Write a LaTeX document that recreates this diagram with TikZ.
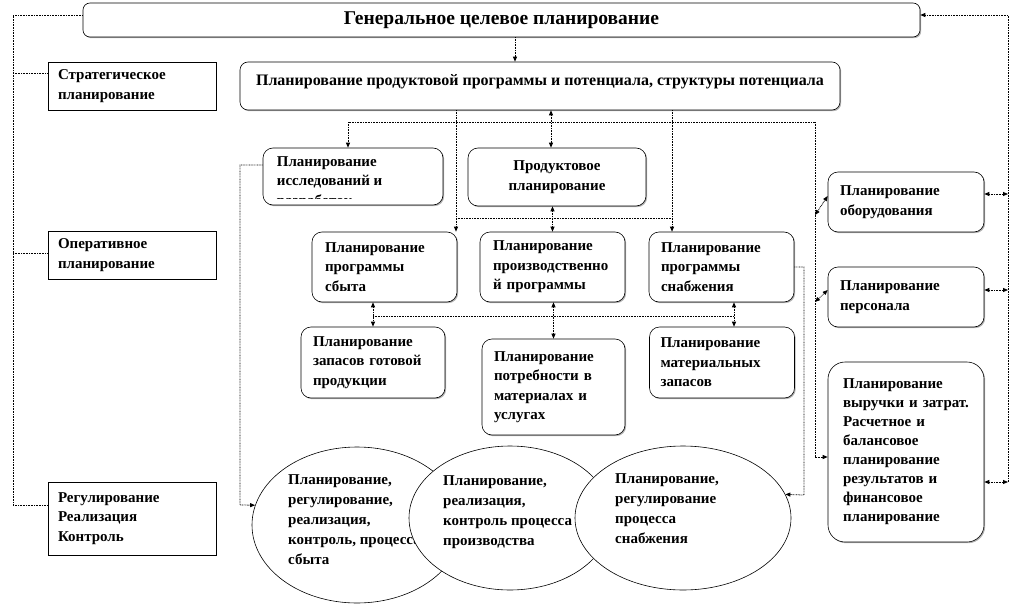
\documentclass[tikz,border=0pt]{standalone}
\usepackage{fontspec}
\setmainfont{Liberation Serif}
\usepackage{tikz}
\usetikzlibrary{positioning}
\usetikzlibrary{shapes.geometric}
\usetikzlibrary{shadows}
\usetikzlibrary{arrows.meta}

\begin{document}
\begin{tikzpicture}[x=1pt,y=-1pt,
  >={Triangle[length=5pt,width=4pt]},
  box/.style={draw,fill=white,line width=0.6pt,inner sep=0pt,
    drop shadow={shadow xshift=1.2pt,shadow yshift=-1.2pt,opacity=0.6},
    font=\fontsize{15}{19.5}\selectfont\bfseries},
  rbox/.style={box,rounded corners=10pt},
  oval/.style={ellipse,draw,fill=white,line width=0.6pt,inner sep=0pt},
  words/.style={inner sep=0pt,align=left,anchor=north west,
    font=\fontsize{15}{20}\selectfont\bfseries},
  link/.style={dash pattern=on 0.8pt off 0.8pt,line width=0.8pt}]
  \useasboundingbox (0,0) rectangle (1032,615);

  \node at (501.5,20) [rbox,rounded corners=7pt,minimum width=837pt,minimum height=34pt,font=\fontsize{19.5}{22}\selectfont\bfseries] (gen) {
    Генеральное целевое планирование
  };

  \node at (540,86) [rbox,rounded corners=8pt,minimum width=600pt,minimum height=48pt,text depth=12pt,font=\fontsize{16}{19}\selectfont\bfseries] (prog) {
    Планирование продуктовой программы и потенциала, структуры потенциала
  };

  \node at (132,86) [box,minimum width=168pt,minimum height=48pt,text width=148pt,align=left] (strat) {
    Стратегическое\\планирование
  };

  \node at (132,255) [box,minimum width=168pt,minimum height=48pt,text width=148pt,align=left] (oper) {
    Оперативное\\планирование
  };

  \node at (132,518.5) [box,minimum width=168pt,minimum height=73pt,text width=148pt,align=left] (reg) {
    Регулирование\\Реализация\\Контроль
  };

  \node at (353,176.5) [rbox,minimum width=180pt,minimum height=57pt] (research) {};
  \begin{scope}
    \clip (research.north west) rectangle ([yshift=7pt]research.south east);
    \node at ([xshift=14pt,yshift=-8.5pt]research.north west) [words,font=\fontsize{15}{19.5}\selectfont\bfseries] (research text) {
      Планирование\\исследований и\\разработок
    };
  \end{scope}

  \node at (557,177) [rbox,minimum width=178pt,minimum height=58pt,align=center] (product) {
    Продуктовое\\планирование
  };

  \node at (384.5,267) [rbox,minimum width=145pt,minimum height=70pt,text width=119pt,align=left] (sales) {
    Планирование\\программы\\сбыта
  };

  \node at (552.5,267) [rbox,minimum width=145pt,minimum height=70pt,text width=119pt,align=left] (output) {
    Планирование\\производственно\\й программы
  };

  \node at (721.5,267) [rbox,minimum width=145pt,minimum height=70pt,text width=121pt,align=left] (supply) {
    Планирование\\программы\\снабжения
  };

  \node at (373,362.5) [rbox,minimum width=144pt,minimum height=71pt,text width=120pt,align=left] (stock) {
    Планирование\\запасов готовой\\продукции
  };

  \node at (553.5,387) [rbox,minimum width=143pt,minimum height=96pt,text width=119pt,align=left] (needs) {
    Планирование\\потребности в\\материалах и\\услугах
  };

  \node at (722,362.5) [rbox,minimum width=145pt,minimum height=71pt,text width=123pt,align=left] (material) {
    Планирование\\материальных\\запасов
  };

  \node at (906,202) [rbox,minimum width=156pt,minimum height=60pt,text width=132pt,align=left] (equip) {
    Планирование\\оборудования
  };

  \node at (906,297) [rbox,minimum width=156pt,minimum height=60pt,text width=132pt,align=left] (staff) {
    Планирование\\персонала
  };

  \node at (906,452) [rbox,rounded corners=17pt,minimum width=156pt,minimum height=180pt,text width=126pt,align=left,font=\fontsize{15}{19}\selectfont\bfseries] (finance) {
    Планирование\\выручки и затрат.\\Расчетное и\\балансовое\\планирование\\результатов и\\финансовое\\планирование
  };

  % control loops
  \node at (357,525) [oval,minimum width=210pt,minimum height=156pt] (sales loop) {};
  \node at (288,474.5) [words] (sales loop text) {
    Планирование,\\регулирование,\\реализация,\\контроль, процесса\\сбыта
  };

  \node at (510,518) [oval,minimum width=202pt,minimum height=144pt] (output loop) {};
  \node at (443,475) [words] (output loop text) {
    Планирование,\\реализация,\\контроль процесса\\производства
  };

  \node at (683,518) [oval,minimum width=216pt,minimum height=144pt] (supply loop) {};
  \node at (615,473) [words] (supply loop text) {
    Планирование,\\регулирование\\процесса\\снабжения
  };

  % left rail
  \coordinate (rail top) at (13,15);
  \coordinate (rail end) at (13,505);
  \draw[link] (gen.west |- rail top) -- (rail top) -- (rail end) -- (reg.west |- rail end);
  \draw[link] (rail top |- 0,73) -- (strat.west |- 0,73);
  \draw[link] (rail top |- 0,253) -- (oper.west |- 0,253);

  % right rail
  \coordinate (back top) at (1008,15);
  \coordinate (back end) at (1008,482);
  \draw[link,->] (back end) -- (back top) -- (gen.east |- back top);
  \draw[link,<->] (equip.east |- 0,194) -- (back top |- 0,194);
  \draw[link,<->] (staff.east |- 0,290) -- (back top |- 0,290);
  \draw[link,<->] (finance.east |- back end) -- (back end);

  \draw[link,->] (gen.south -| 515,0) -- (prog.north -| 515,0);

  % inner rail
  \coordinate (fork) at (815,122);
  \draw[link,->] (fork) -- (fork -| 348,0) -- (research.north -| 348,0);
  \draw[link,->] (fork) -- (fork |- 0,457) -- (finance.west |- 0,457);
  \draw[link,<->] (fork |- 0,215) -- (equip.west |- 0,196);
  \draw[link,<->] (fork |- 0,302) -- (staff.west |- 0,290);
  \draw[link,<->] (prog.south -| 551,0) -- (product.north -| 551,0);

  \draw[link,->] (prog.south -| 456,0) -- (sales.north -| 456,0);
  \draw[link,->] (prog.south -| 672,0) -- (supply.north -| 672,0);
  \draw[link] (456,218) -- (672,218);
  \draw[link,<->] (product.south -| output.north) -- (output.north);

  \draw[link,<->] (sales.south -| stock.north) -- (stock.north);
  \draw[link,<->] (output.south -| needs.north) -- (needs.north);
  \draw[link,<->] (supply.south -| 734,0) -- (material.north -| 734,0);
  \draw[link] (stock.north |- 0,316) -- (734,316);

  \draw[link,->] (research.west |- 0,165) -| (240,505) -- (sales loop.169);
  \draw[link,->] (supply.east) -| (804,495) -- (supply loop.13);
\end{tikzpicture}
\end{document}
